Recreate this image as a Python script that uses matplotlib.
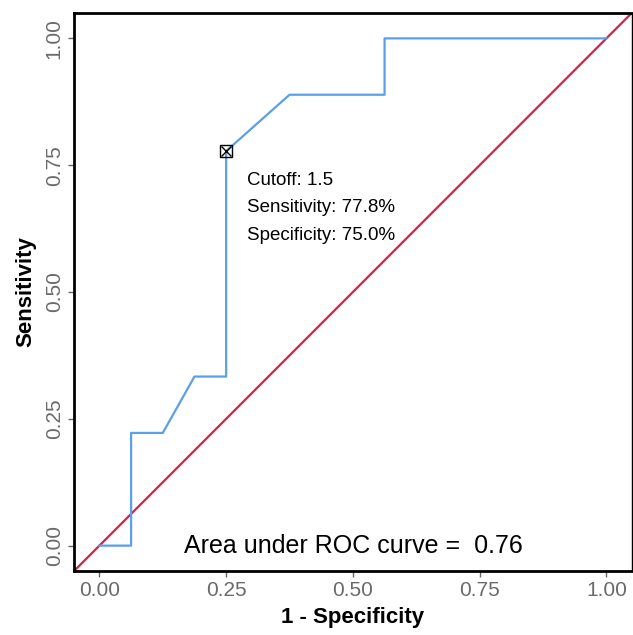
import matplotlib
matplotlib.use("Agg")
import matplotlib.pyplot as plt

plt.rcParams["font.family"] = ["Liberation Sans", "DejaVu Sans"]

# ROC curve points (1 - specificity, sensitivity)
fpr = [0.0, 0.0625, 0.0625, 0.125, 0.1875, 0.25, 0.25, 0.375, 0.5625, 0.5625, 1.0]
tpr = [0.0, 0.0, 0.2222, 0.2222, 0.3333, 0.3333, 0.7778, 0.8889, 0.8889, 1.0, 1.0]

best_fpr = 0.25
best_tpr = 0.7778
cutoff_lines = ["Cutoff: 1.5", "Sensitivity: 77.8%", "Specificity: 75.0%"]
auc = 0.76
ticks = [0.0, 0.25, 0.5, 0.75, 1.0]
tick_labels = ["0.00", "0.25", "0.50", "0.75", "1.00"]

fig = plt.figure(figsize=(6.33, 6.35), dpi=100)
ax = fig.add_axes([0.117, 0.1008, 0.881, 0.8787])

ax.set_xlim(-0.05, 1.05)
ax.set_ylim(-0.05, 1.05)

# reference diagonal across the whole panel
ax.plot([-0.05, 1.05], [-0.05, 1.05], color="#dc1f45", lw=1.6, zorder=2)
ax.plot(fpr, tpr, color="#5aa0e8", lw=1.6, zorder=3)

# optimal cutoff marker (square with cross)
ax.plot(best_fpr, best_tpr, marker="s", ms=8, mfc="none", mec="black", mew=1.0, zorder=4)
ax.plot(best_fpr, best_tpr, marker="x", ms=7, color="black", mew=1.0, zorder=4)

tx = best_fpr + 0.041
for i, line in enumerate(cutoff_lines):
    ax.text(tx, best_tpr - 0.057 - i * 0.055, line, fontsize=13.5,
            ha="left", va="center", color="black")

ax.text(0.5, 0.0, f"Area under ROC curve =  {auc:.2f}", fontsize=18,
        ha="center", va="center", color="black")

ax.set_xticks(ticks)
ax.set_xticklabels(tick_labels)
ax.set_yticks(ticks)
ax.set_yticklabels(tick_labels, rotation=90, va="center")
ax.tick_params(axis="both", colors="#666666", labelsize=15, length=4, width=1)
ax.tick_params(axis="both", labelcolor="#6a6a6a")

ax.set_xlabel("1 - Specificity", fontsize=16, fontweight="bold", labelpad=5)
ax.set_ylabel("Sensitivity", fontsize=16, fontweight="bold", labelpad=6)

for side in ["left", "bottom", "top"]:
    ax.spines[side].set_linewidth(2)
    ax.spines[side].set_color("black")
ax.spines["right"].set_linewidth(1)

fig.savefig("out.png", dpi=100, facecolor="white")
